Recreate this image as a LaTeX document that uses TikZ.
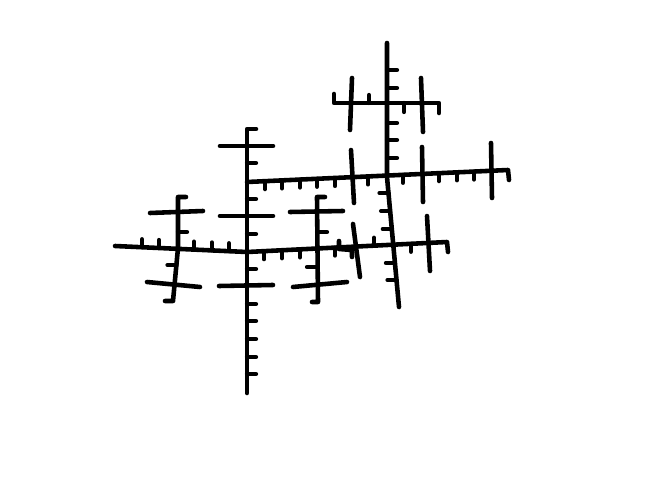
\documentclass[tikz,border=0pt]{standalone}
\usepackage{tikz}
\tikzset{
  stroke/.style={line width=2.6pt, draw=black, line cap=round, line join=round},
  notch/.style={line width=2.4pt, draw=black, line cap=round},
}
\begin{document}
\begin{tikzpicture}
\useasboundingbox (0,0) rectangle (13.16,9.52);
\draw[stroke] (5.12,6.94) -- (4.94,6.94) -- (4.94,1.66);
\draw[notch] (4.94,6.26) -- (5.12,6.26);
\draw[notch] (4.94,5.54) -- (5.12,5.54);
\draw[notch] (4.94,4.84) -- (5.12,4.84);
\draw[notch] (4.94,4.14) -- (5.12,4.14);
\draw[notch] (4.94,3.44) -- (5.12,3.44);
\draw[notch] (4.94,3.10) -- (5.12,3.10);
\draw[notch] (4.94,2.74) -- (5.12,2.74);
\draw[notch] (4.94,2.38) -- (5.12,2.38);
\draw[notch] (4.94,2.04) -- (5.12,2.04);
\draw[stroke] (4.40,6.60) -- (5.46,6.60);
\draw[stroke] (4.40,5.20) -- (5.46,5.20);
\draw[stroke] (4.38,3.80) -- (5.46,3.82);
\draw[stroke] (2.30,4.60) -- (4.94,4.48) -- (8.94,4.68) -- (8.96,4.48);
\draw[notch] (2.84,4.576) -- (2.84,4.736);
\draw[notch] (3.18,4.560) -- (3.18,4.720);
\draw[notch] (3.88,4.528) -- (3.88,4.688);
\draw[notch] (4.24,4.512) -- (4.24,4.672);
\draw[notch] (4.58,4.496) -- (4.58,4.656);
\draw[notch] (5.28,4.496) -- (5.28,4.336);
\draw[notch] (5.64,4.514) -- (5.64,4.354);
\draw[notch] (6.00,4.532) -- (6.00,4.372);
\draw[notch] (6.70,4.568) -- (6.70,4.408);
\draw[notch] (8.22,4.644) -- (8.22,4.484);
\draw[notch] (7.48,4.606) -- (7.48,4.766);
\draw[stroke] (6.78,4.70) -- (6.78,4.54) -- (7.04,4.52) -- (7.04,4.38);
\draw[stroke] (6.50,5.58) -- (6.34,5.58) -- (6.36,3.48) -- (6.24,3.48);
\draw[notch] (6.34,4.88) -- (6.54,4.88);
\draw[notch] (6.35,4.18) -- (6.14,4.18);
\draw[stroke] (5.80,5.28) -- (6.86,5.30);
\draw[stroke] (5.86,3.78) -- (6.94,3.88);
\draw[stroke] (7.06,5.04) -- (7.20,3.98);
\draw[stroke] (8.54,5.20) -- (8.60,4.10);
\draw[stroke] (3.72,5.58) -- (3.56,5.58) -- (3.56,4.56) -- (3.46,3.50) -- (3.30,3.50);
\draw[notch] (3.56,4.88) -- (3.74,4.88);
\draw[notch] (3.53,4.22) -- (3.35,4.22);
\draw[stroke] (3.00,5.26) -- (4.06,5.30);
\draw[stroke] (2.94,3.88) -- (4.00,3.78);
\draw[stroke] (4.94,5.88) -- (10.16,6.12) -- (10.18,5.92);
\draw[notch] (5.30,5.897) -- (5.30,5.737);
\draw[notch] (5.64,5.912) -- (5.64,5.752);
\draw[notch] (6.00,5.929) -- (6.00,5.769);
\draw[notch] (6.34,5.944) -- (6.34,5.784);
\draw[notch] (6.70,5.961) -- (6.70,5.801);
\draw[notch] (7.36,5.991) -- (7.36,5.831);
\draw[notch] (8.06,6.023) -- (8.06,5.863);
\draw[notch] (8.78,6.057) -- (8.78,5.897);
\draw[notch] (9.14,6.073) -- (9.14,5.913);
\draw[notch] (9.48,6.089) -- (9.48,5.929);
\draw[stroke] (7.02,6.52) -- (7.08,5.46);
\draw[stroke] (8.44,6.58) -- (8.46,5.48);
\draw[stroke] (9.82,6.66) -- (9.84,5.56);
\draw[stroke] (7.74,8.66) -- (7.74,5.98) -- (7.98,3.38);
\draw[notch] (7.74,8.12) -- (7.94,8.12);
\draw[notch] (7.74,7.76) -- (7.94,7.76);
\draw[notch] (7.74,7.06) -- (7.94,7.06);
\draw[notch] (7.74,6.72) -- (7.94,6.72);
\draw[notch] (7.74,6.36) -- (7.94,6.36);
\draw[notch] (7.770,5.66) -- (7.590,5.66);
\draw[notch] (7.802,5.30) -- (7.622,5.30);
\draw[notch] (7.836,4.94) -- (7.656,4.94);
\draw[notch] (7.898,4.26) -- (7.718,4.26);
\draw[notch] (7.930,3.92) -- (7.750,3.92);
\draw[stroke] (6.68,7.64) -- (6.68,7.46) -- (8.78,7.46) -- (8.78,7.26);
\draw[notch] (7.38,7.46) -- (7.38,7.62);
\draw[notch] (8.08,7.46) -- (8.08,7.28);
\draw[stroke] (7.04,7.96) -- (7.00,6.92);
\draw[stroke] (8.42,7.96) -- (8.46,6.88);
\end{tikzpicture}
\end{document}
